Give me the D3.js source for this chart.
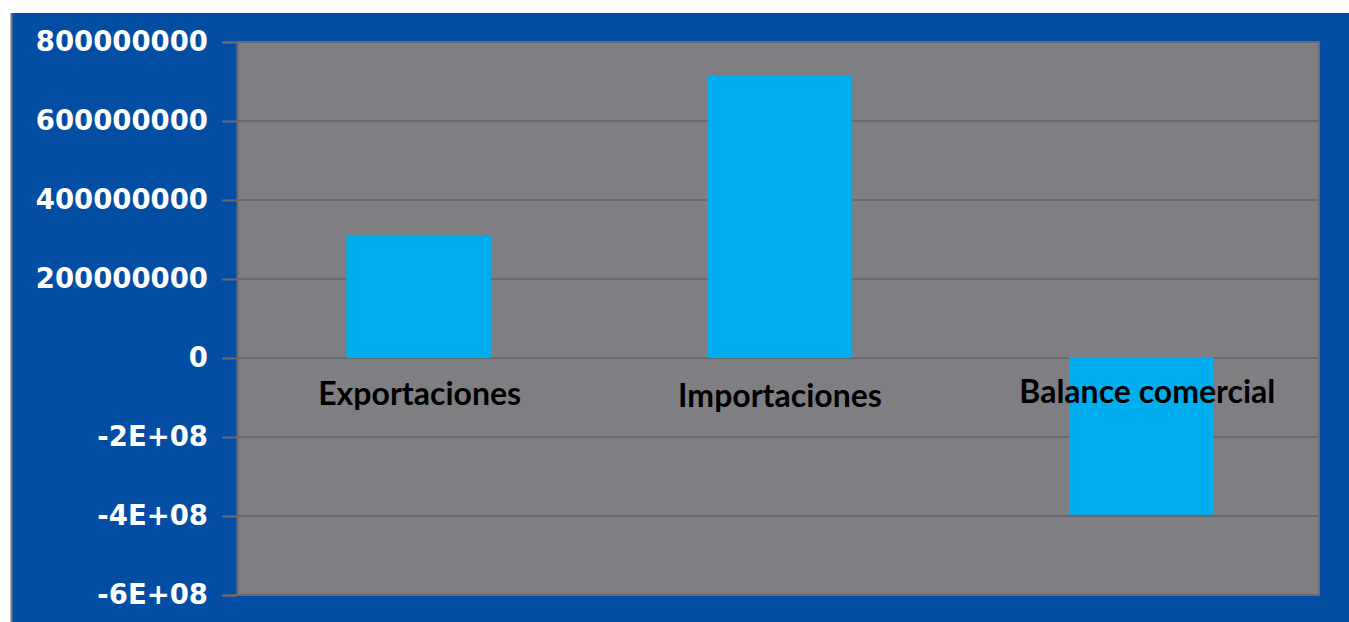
<!DOCTYPE html>
<html lang="es">
<head>
<meta charset="UTF-8">
<title>Balance comercial</title>
<style>
  body { margin: 0; padding: 0; background: #ffffff; overflow: hidden; }
  svg { display: block; }
</style>
</head>
<body>
<svg id="chart" width="1349" height="622"></svg>
<script src="https://d3js.org/d3.v7.min.js"></script>
<script>
// datos
const categories = ["Exportaciones", "Importaciones", "Balance comercial"];
const values = [309000000, 713000000, -397000000];
const tickValues = [800000000, 600000000, 400000000, 200000000, 0, -200000000, -400000000, -600000000];
const tickLabels = ["800000000", "600000000", "400000000", "200000000", "0", "-2E+08", "-4E+08", "-6E+08"];
// línea base y desplazamiento horizontal de cada etiqueta, como en el original
const labelBaseline = [405, 407, 403];
const labelShift = [1, 0, 6];

const svg = d3.select("#chart");
const W = 1349, H = 622;

// fondo azul con borde gris a la izquierda
svg.append("rect")
  .attr("x", 11).attr("y", 13)
  .attr("width", W - 11).attr("height", H - 13)
  .attr("fill", "#034ea2");
svg.append("line")
  .attr("x1", 11.5).attr("x2", 11.5).attr("y1", 13).attr("y2", H)
  .attr("stroke", "#7a7a7e").attr("stroke-width", 2);

const plot = { left: 237, right: 1319, top: 42, bottom: 595 };

const x = d3.scaleBand()
  .domain(categories)
  .range([plot.left + 1, plot.right + 3])
  .paddingInner(0.6)
  .paddingOuter(0.3);

const y = d3.scaleLinear()
  .domain([-600000000, 800000000])
  .range([plot.bottom, plot.top]);

// área de trazado gris
svg.append("rect")
  .attr("x", plot.left).attr("y", plot.top)
  .attr("width", plot.right - plot.left).attr("height", plot.bottom - plot.top)
  .attr("fill", "#7f7f83");
// borde oscuro derecho
svg.append("line")
  .attr("x1", plot.right).attr("x2", plot.right)
  .attr("y1", plot.top - 1).attr("y2", plot.bottom + 1)
  .attr("stroke", "#6b6b6f").attr("stroke-width", 2);

// líneas de cuadrícula
svg.append("g")
  .selectAll("line")
  .data(tickValues)
  .join("line")
  .attr("x1", plot.left).attr("x2", plot.right)
  .attr("y1", d => y(d)).attr("y2", d => y(d))
  .attr("stroke", "#6a6a6e").attr("stroke-width", 2);

// eje Y
const yAxis = d3.axisLeft(y)
  .tickValues(tickValues)
  .tickFormat((d, i) => tickLabels[i])
  .tickSize(15)
  .tickPadding(14);

const gy = svg.append("g")
  .attr("transform", `translate(${plot.left},0)`)
  .call(yAxis);
gy.select(".domain").attr("stroke", "#6a6a6e").attr("stroke-width", 2);
gy.selectAll(".tick line").attr("stroke", "#6a6a6e").attr("stroke-width", 2);
gy.selectAll(".tick text")
  .attr("fill", "#ffffff")
  .attr("font-family", "'DejaVu Sans', sans-serif")
  .attr("font-weight", "bold")
  .attr("font-size", 27.5);

// barras
svg.append("g")
  .selectAll("rect")
  .data(values)
  .join("rect")
  .attr("x", (d, i) => x(categories[i]))
  .attr("width", x.bandwidth())
  .attr("y", d => y(Math.max(0, d)) - 1)
  .attr("height", d => Math.abs(y(d) - y(0)) + 1)
  .attr("fill", "#00adee");

// etiquetas de categoría
svg.append("g")
  .selectAll("text")
  .data(categories)
  .join("text")
  .attr("x", (d, i) => x(d) + x.bandwidth() / 2 + labelShift[i])
  .attr("y", (d, i) => labelBaseline[i])
  .attr("text-anchor", "middle")
  .attr("font-family", "Lato, sans-serif")
  .attr("font-weight", "bold")
  .attr("font-size", 32)
  .attr("fill", "#000000")
  .text(d => d);
</script>
</body>
</html>
